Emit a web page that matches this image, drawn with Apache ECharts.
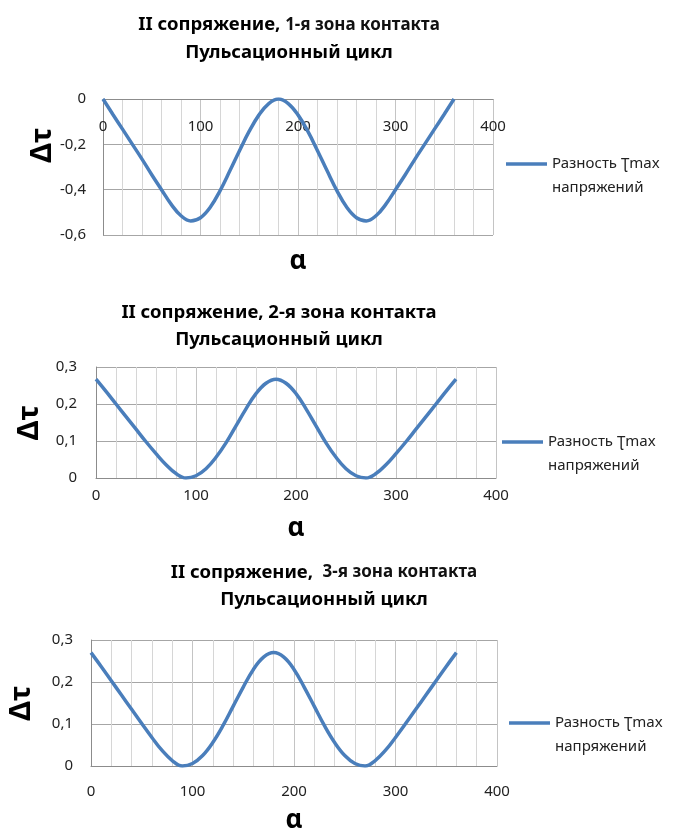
<!DOCTYPE html>
<html><head><meta charset="utf-8">
<script src="https://cdn.jsdelivr.net/npm/echarts@6/dist/echarts.min.js"></script>
<style>html,body{margin:0;padding:0;background:#fff}#c{width:673px;height:831px}</style>
</head><body><div id="c"></div>
<script>
// ---- data ----
const alpha = [0, 10, 20, 30, 40, 50, 60, 70, 80, 90, 100, 110, 120, 130, 140, 150, 160, 170, 180,
               190, 200, 210, 220, 230, 240, 250, 260, 270, 280, 290, 300, 310, 320, 330, 340, 350, 360];
const zone1 = [0, -0.067, -0.133, -0.199, -0.265, -0.334, -0.400, -0.465, -0.515, -0.538,
               -0.524, -0.478, -0.405, -0.318, -0.228, -0.142, -0.070, -0.020, 0,
               -0.020, -0.070, -0.142, -0.228, -0.318, -0.405, -0.478, -0.524, -0.538,
               -0.515, -0.465, -0.400, -0.334, -0.265, -0.199, -0.133, -0.067, 0];
const zone2 = [0.267, 0.234, 0.200, 0.166, 0.132, 0.098, 0.066, 0.036, 0.012, 0,
               0.006, 0.025, 0.056, 0.095, 0.141, 0.187, 0.228, 0.256, 0.267,
               0.256, 0.228, 0.187, 0.141, 0.095, 0.056, 0.025, 0.006, 0,
               0.012, 0.036, 0.066, 0.098, 0.132, 0.166, 0.200, 0.234, 0.267];
const zone3 = [0.270, 0.237, 0.203, 0.169, 0.135, 0.101, 0.068, 0.037, 0.013, 0,
               0.006, 0.025, 0.056, 0.096, 0.142, 0.188, 0.230, 0.259, 0.270,
               0.259, 0.230, 0.188, 0.142, 0.096, 0.056, 0.025, 0.006, 0,
               0.013, 0.037, 0.068, 0.101, 0.135, 0.169, 0.203, 0.237, 0.270];
const xRange = [0, 400];
const xStep = 100;
const yRange1 = [-0.6, 0];
const yRange23 = [0, 0.3];
const yStep = [0.2, 0.1, 0.1];
const titleMain = ['II сопряжение, ', 'II сопряжение, 2-я зона контакта', 'II сопряжение,  '];
const titleZone = ['1-я зона контакта', '', '3-я зона контакта'];
const subtitle = 'Пульсационный цикл';
const seriesName = 'Разность Ʈmax\nнапряжений';
const xName = 'α', yName = 'Δτ';

// ---- layout ----
const FF = "'Noto Sans', 'DejaVu Sans', sans-serif";
const zones = [zone1, zone2, zone3];
const yRanges = [yRange1, yRange23, yRange23];
const grids = [
  {left: 103, top: 99, width: 390, height: 136},
  {left: 96, top: 367, width: 400, height: 111},
  {left: 91, top: 640, width: 406, height: 126}
];
const titlePos = [{c: 289, t: 6}, {c: 279, t: 293.5}, {c: 324, t: 553.5}];
const xPos = ['top', 'bottom', 'bottom'];
const xLabelMargin = [20, 10, 18];
const xNameGap = [-163, 38, 42];
const yLabelMargin = [17, 19, 18];
const yNameGap = [46, 52, 55];
const yNamePad = [[0, 0, 0, 44], 0, 0];
const legendPos = [{l: 501, t: 123}, {l: 497, t: 401}, {l: 504, t: 682}];

const fmtY = v => (Math.abs(v) < 1e-9 ? '0' : String(Math.round(v * 10) / 10).replace('.', ','));

const option = {
  animation: false,
  backgroundColor: '#ffffff',
  textStyle: {fontFamily: FF},
  title: titlePos.map((p, i) => ({
    left: p.c - 5, top: p.t, textAlign: 'center',
    text: '{a|' + titleMain[i] + '}' + (titleZone[i] ? '{b|' + titleZone[i] + '}' : '') + '\n{a|' + subtitle + '}',
    textStyle: {
      fontFamily: FF,
      rich: {
        a: {fontSize: 18.5, fontWeight: 'bold', color: '#000', lineHeight: 27.5, fontFamily: FF},
        b: {fontSize: 17, fontWeight: 'bold', color: '#111', lineHeight: 27.5, fontFamily: FF}
      }
    }
  })),
  grid: grids.map(g => Object.assign({containLabel: false, outerBoundsMode: 'none'}, g)),
  xAxis: grids.map((g, i) => ({
    gridIndex: i, type: 'value', min: xRange[0], max: xRange[1], interval: xStep,
    position: xPos[i],
    axisLine: {show: true, onZero: false, lineStyle: {color: '#8c8c8c', width: 1}},
    axisTick: {show: false},
    axisLabel: {inside: i === 0, margin: xLabelMargin[i], fontSize: 15, color: '#222', fontFamily: FF},
    splitLine: {show: true, lineStyle: {color: '#c4c4c4', width: 1}},
    minorTick: {show: false, splitNumber: 5},
    minorSplitLine: {show: true, lineStyle: {color: '#d6d6d6', width: 1}},
    name: xName, nameLocation: 'middle', nameGap: xNameGap[i], nameMoveOverlap: false,
    nameTextStyle: Object.assign({fontSize: 26, fontWeight: 'bold', color: '#000', fontFamily: FF},
      i === 0 ? {verticalAlign: 'middle'} : {})
  })),
  yAxis: grids.map((g, i) => ({
    gridIndex: i, type: 'value', min: yRanges[i][0], max: yRanges[i][1], interval: yStep[i],
    axisLine: {show: true, onZero: false, lineStyle: {color: '#8c8c8c', width: 1}},
    axisTick: {show: false},
    axisLabel: {margin: yLabelMargin[i], fontSize: 15, color: '#222', fontFamily: FF, formatter: fmtY},
    splitLine: {show: true, lineStyle: {color: '#a6a6a6', width: 1}},
    name: yName, nameLocation: 'middle', nameGap: yNameGap[i], nameMoveOverlap: false,
    nameTextStyle: {fontSize: 29, fontWeight: 'bold', color: '#000', fontFamily: FF, padding: yNamePad[i]}
  })),
  legend: legendPos.map(p => ({
    data: [seriesName], left: p.l, top: p.t, orient: 'vertical',
    icon: 'rect', itemWidth: 41, itemHeight: 3.5, selectedMode: false,
    formatter: n => ' \n' + n,
    textStyle: {fontSize: 15, color: '#222', lineHeight: 24, fontFamily: FF}
  })),
  series: zones.map((z, i) => ({
    type: 'line', name: seriesName, xAxisIndex: i, yAxisIndex: i,
    data: alpha.map((a, j) => [a, z[j]]),
    smooth: 0.4, symbol: 'none', showSymbol: false,
    lineStyle: {color: '#4a7ebb', width: 3.5},
    itemStyle: {color: '#4a7ebb'}
  }))
};
const chart = echarts.init(document.getElementById('c'), null, {renderer: 'canvas'});
chart.setOption(option);
</script>
</body></html>
